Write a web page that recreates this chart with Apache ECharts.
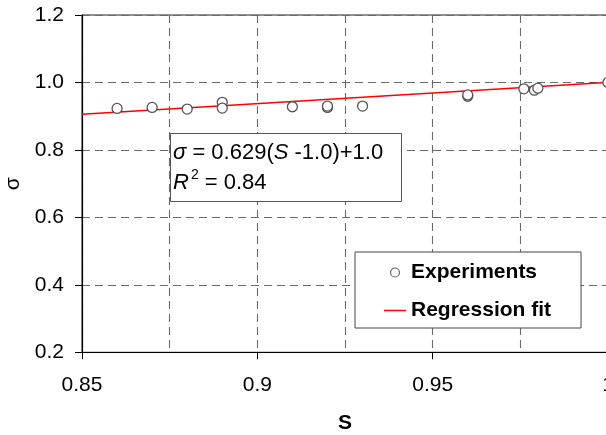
<!DOCTYPE html>
<html>
<head>
<meta charset="utf-8">
<script src="https://cdn.jsdelivr.net/npm/echarts@6/dist/echarts.min.js"></script>
<style>html,body{margin:0;padding:0;background:#fff;}#c{width:606px;height:435px;}</style>
</head>
<body>
<div id="c"></div>
<script>
// Experimental points (S, sigma)
const expS = [0.86, 0.87, 0.88, 0.89, 0.89, 0.91, 0.92, 0.92, 0.93, 0.96, 0.96, 0.976, 0.979, 0.98, 1.0];
const expSigma = [0.923, 0.926, 0.921, 0.941, 0.924, 0.928, 0.926, 0.930, 0.930, 0.959, 0.963, 0.981, 0.977, 0.983, 1.0];
// Regression fit line end points
const fitS = [0.85, 1.0];
const fitSigma = [0.906, 1.0];
// Axis settings
const xMin = 0.85, xMax = 1.0, xStep = 0.05;
const yMin = 0.2, yMax = 1.2, yStep = 0.2;
const seriesNames = ['Experiments', 'Regression fit'];
const eqLine1 = '{i|σ} = 0.629({i|S} -1.0)+1.0';
const eqLine2 = '{i|R}{sup|2} = 0.84';

const FONT = 'Liberation Sans, Arial, sans-serif';
const chart = echarts.init(document.getElementById('c'), null, {renderer: 'canvas'});
const dash = {color: '#6a6a6a', width: 1.1, type: [8, 5]};

chart.setOption({
  animation: false,
  backgroundColor: '#fff',
  grid: {left: 82, top: 15, width: 526, height: 337.3, outerBoundsMode: 'none', containLabel: false,
         show: true, borderColor: '#222', borderWidth: 1, backgroundColor: 'transparent'},
  xAxis: {
    type: 'value', min: xMin, max: xMax, interval: xStep,
    name: 'S', nameLocation: 'middle', nameGap: 60,
    nameTextStyle: {fontFamily: FONT, fontSize: 21, fontWeight: 'bold', color: '#000'},
    axisLine: {show: true, onZero: false, lineStyle: {color: '#000', width: 1.2}},
    axisTick: {show: true, length: 7, lineStyle: {color: '#000'}},
    axisLabel: {fontFamily: FONT, fontSize: 21, color: '#000', margin: 22},
    splitLine: {show: true, lineStyle: dash},
    minorTick: {show: false, splitNumber: 2},
    minorSplitLine: {show: true, lineStyle: dash}
  },
  yAxis: {
    type: 'value', min: yMin, max: yMax, interval: yStep,
    name: 'σ', nameLocation: 'middle', nameGap: 57,
    nameTextStyle: {fontFamily: FONT, fontSize: 21, color: '#000'},
    axisLine: {show: true, onZero: false, lineStyle: {color: '#000', width: 1.2}},
    axisTick: {show: true, length: 7, lineStyle: {color: '#000'}},
    axisLabel: {fontFamily: FONT, fontSize: 21, color: '#000', margin: 18, formatter: v => v.toFixed(1)},
    splitLine: {show: true, lineStyle: dash}
  },
  legend: {
    left: 355, top: 252, orient: 'vertical',
    padding: [10, 30, 7, 29], itemGap: 17, itemWidth: 22, itemHeight: 9,
    backgroundColor: '#fff', borderColor: '#444', borderWidth: 1,
    textStyle: {fontFamily: FONT, fontSize: 21, fontWeight: 'bold', color: '#000', lineHeight: 20},
    data: [
      {name: seriesNames[0], icon: 'circle', itemStyle: {color: '#fff', borderColor: '#666', borderWidth: 1.2}},
      {name: seriesNames[1], icon: 'path://M0,0H22V1.5H0Z', itemStyle: {color: '#ff0000', borderWidth: 0}}
    ]
  },
  graphic: [
    {type: 'rect', left: 170, top: 133, z: 100, zlevel: 0,
     shape: {x: 0, y: 0, width: 231, height: 68}, style: {fill: '#ffffff', stroke: '#555', lineWidth: 1}},
    {type: 'text', left: 173, top: 138, z: 101, zlevel: 0, style: {
        text: eqLine1 + '\n' + eqLine2,
        fontFamily: FONT, fontSize: 22, fill: '#000', lineHeight: 30,
        rich: {
          i: {fontFamily: FONT, fontSize: 22, fontStyle: 'italic', fill: '#000', lineHeight: 30},
          sup: {fontFamily: FONT, fontSize: 14, fill: '#000', verticalAlign: 'top', lineHeight: 24, padding: [0, 0, 0, 2]}
        }
    }}
  ],
  series: [
    {
      name: seriesNames[1], type: 'line', z: 2,
      data: fitS.map((s, i) => [s, fitSigma[i]]),
      symbol: 'none', lineStyle: {color: '#ff0000', width: 1.5}, itemStyle: {color: '#ff0000'}
    },
    {
      name: seriesNames[0], type: 'scatter', z: 3,
      data: expS.map((s, i) => [s, expSigma[i]]),
      symbol: 'circle', symbolSize: 10,
      itemStyle: {color: '#fff', borderColor: '#555', borderWidth: 1.3, opacity: 1}
    }
  ]
});
</script>
</body>
</html>
